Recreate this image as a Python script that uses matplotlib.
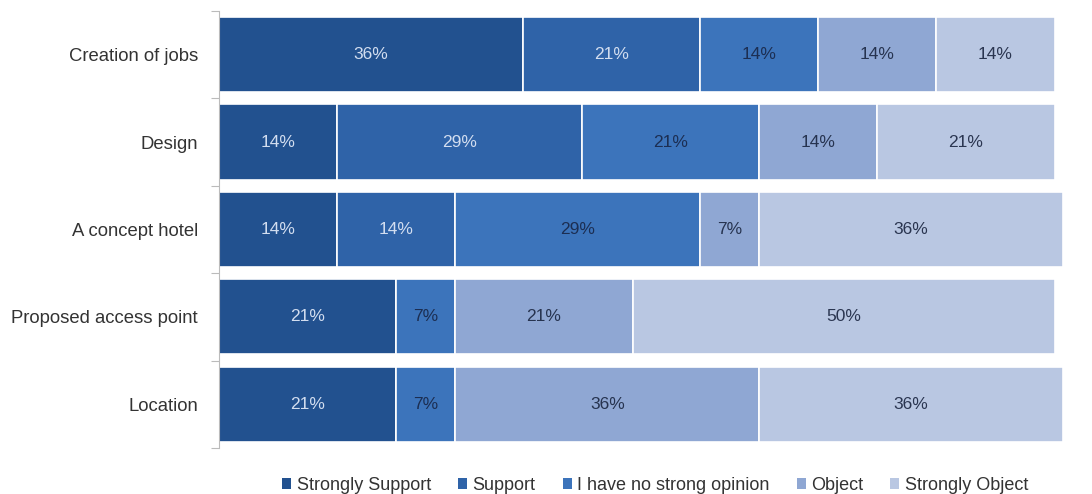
import matplotlib
matplotlib.use("Agg")
import matplotlib.pyplot as plt
from matplotlib.patches import Patch
import numpy as np

categories = ["Creation of jobs", "Design", "A concept hotel", "Proposed access point", "Location"]
series = ["Strongly Support", "Support", "I have no strong opinion", "Object", "Strongly Object"]
strongly_support = [36, 14, 14, 21, 21]
support = [21, 29, 14, 0, 0]
no_opinion = [14, 21, 29, 7, 7]
object_ = [14, 14, 7, 21, 36]
strongly_object = [14, 21, 36, 50, 36]

values = [strongly_support, support, no_opinion, object_, strongly_object]
colors = ["#22518f", "#2f63a8", "#3c74bb", "#8fa7d3", "#b9c7e2"]
text_colors = ["#d3def0", "#d3def0", "#1c2e52", "#26334f", "#2a3550"]

plt.rcParams['font.family'] = ['Liberation Sans', 'DejaVu Sans']
fig = plt.figure(figsize=(10.92, 4.94), dpi=100)
ax = fig.add_axes([0.2005, 0.093, 0.773, 0.885])

y = np.arange(len(categories))
left = np.zeros(len(categories))
for vals, col, tcol, name in zip(values, colors, text_colors, series):
    vals = np.array(vals, dtype=float)
    ax.barh(y, vals, left=left, height=0.86, color=col, edgecolor="white",
            linewidth=1.2, label=name)
    for yi, (l, v) in enumerate(zip(left, vals)):
        if v > 0:
            ax.text(l + v / 2, yi, f"{int(v)}%", ha="center", va="center",
                    fontsize=12.5, color=tcol)
    left += vals

ax.set_xlim(0, 100)
ax.set_ylim(len(categories) - 0.5, -0.5)
ax.set_yticks(y)
ax.set_yticklabels(categories, fontsize=13.3, color="#333333")
ax.tick_params(axis="y", length=0, pad=15)
ax.set_yticks(np.arange(-0.5, len(categories) + 0.5, 1), minor=True)
ax.tick_params(axis="y", which="minor", length=6, color="#bbbbbb", width=0.8)
ax.set_xticks([])
for s in ["top", "right", "bottom"]:
    ax.spines[s].set_visible(False)
ax.spines["left"].set_color("#bbbbbb")
ax.spines["left"].set_linewidth(0.8)

handles = [Patch(facecolor=c, edgecolor="none") for c in colors]
fig.legend(handles, series, loc="lower center", bbox_to_anchor=(0.6, -0.033), ncol=5,
           frameon=False, fontsize=13, handlelength=0.5, handleheight=0.5,
           handletextpad=0.3, columnspacing=1.5, labelcolor="#333333")

fig.savefig("out.png", dpi=100)
